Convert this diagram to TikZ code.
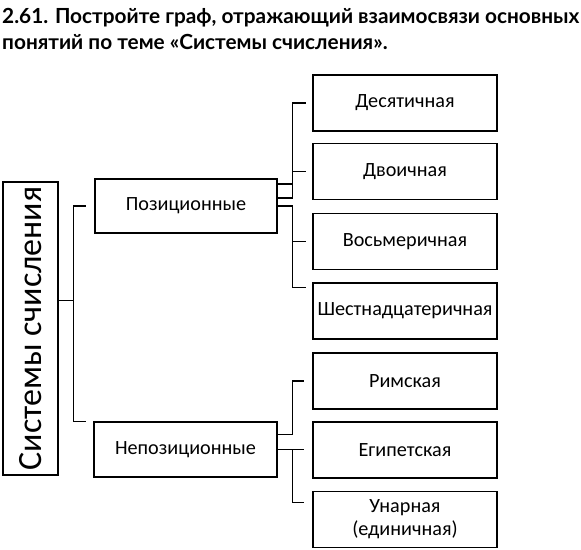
\documentclass[tikz,border=0pt]{standalone}
\usepackage{fontspec}
\setmainfont{Carlito}
\newfontfamily\titlefont{Lato}

\begin{document}
\begin{tikzpicture}[x=1pt,y=-1pt,
    box/.style={draw, line width=1.5pt, minimum width=184pt, minimum height=56pt,
        inner sep=0pt, align=center, font=\fontsize{20.2}{23}\selectfont},
    link/.style={line width=1.2pt},
    headline/.style={anchor=base west, inner sep=0pt, font=\titlefont\bfseries\fontsize{20.8}{24}\selectfont}]
    \useasboundingbox (0,0) rectangle (581,549);

    \node[headline] (title1) at (2,23) {2.61. Постройте граф, отражающий взаимосвязи основных};
    \node[headline] (title2) at (2,49) {понятий по теме «Системы счисления».};

    \node[box, rotate=90, minimum width=293pt, minimum height=55pt,
        font=\fontsize{34}{36}\selectfont] (sys) at (30.5,328.5) {Системы счисления};
    \node[box, minimum width=182pt, minimum height=54pt] (pos) at (186,206) {Позиционные};
    \node[box, minimum width=183pt, minimum height=55pt] (npos) at (185.5,449.5) {Непозиционные};

    \foreach \nm/\yy/\txt in {dec/103/Десятичная, bin/171.5/Двоичная, oct/241.5/Восьмеричная,
        hex/311/Шестнадцатеричная, rom/381/Римская, egy/450/Египетская}
        \node[box] (\nm) at (405,\yy) {\txt};
    \node[box] (una) at (405,519.5) {Унарная\\(единичная)};

    % main split
    \draw[link] ([yshift=28pt]sys.south) -- ++(15,0) |- ([xshift=-8pt]pos.west);
    \draw[link] ([yshift=28pt]sys.south) ++(15,0) |- ([xshift=-7pt]npos.north west);

    % positional
    \draw[link] ([yshift=22pt]pos.east) -- ++(15,0);
    \draw[link] ([yshift=8pt]pos.east) -- ++(15,0) |- ([xshift=-6pt]dec.west);
    \draw[link] ([xshift=15pt]pos.east |- bin.west) -- ([xshift=-6pt]bin.west);
    \draw[link] (pos.east) -- ++(15,0) |- ([xshift=-6pt,yshift=-5pt]hex.north west);
    \draw[link] ([xshift=15pt]pos.east |- oct.west) -- ([xshift=-6pt]oct.west);

    % non-positional
    \draw[link] ([yshift=15pt]npos.east) -- ++(15,0) |- ([xshift=-8pt]rom.west);
    \draw[link] (npos.east) -- ([xshift=-8pt]egy.west |- npos.east);
    \draw[link] ([xshift=15pt]npos.east) |- ([xshift=-8pt,yshift=-12pt]una.north west);
\end{tikzpicture}
\end{document}
